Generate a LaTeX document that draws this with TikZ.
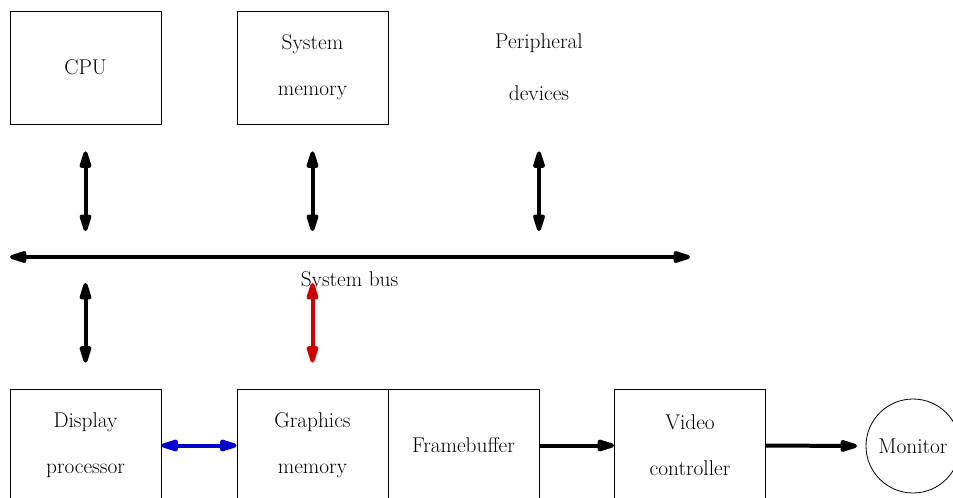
\documentclass[tikz,border=0pt]{standalone}
\usepackage{fontspec}
\usepackage{xcolor}
\usepackage{tikz}
\usetikzlibrary{arrows.meta,calc,positioning,shapes.geometric}
\definecolor{linkred}{RGB}{204,0,0}
\definecolor{linkblue}{RGB}{0,0,204}
\tikzset{
  unit/.style={draw, line width=0.6pt, minimum width=113.25pt, minimum height=84.75pt, inner sep=0pt, align=center, font=\fontsize{16}{34.5}\selectfont},
  bare/.style={unit, draw=none},
  disk/.style={draw, circle, line width=0.6pt, minimum size=70.5pt, inner sep=0pt, outer sep=6.75pt, font=\fontsize{16}{19}\selectfont},
  tag/.style={inner sep=0pt, font=\fontsize{16}{19}\selectfont},
  link/.style={{Triangle[round,length=16.5pt,width=9pt]}-{Triangle[round,length=16.5pt,width=9pt]}, line width=3pt},
  flow/.style={-{Triangle[round,length=16.5pt,width=9pt]}, line width=3pt}
}

\begin{document}
\begin{tikzpicture}[x=0.75pt,y=-0.75pt]
  \useasboundingbox (0,0) rectangle (953,497);

  \node[unit] (cpu) at (85.5,67.5) {CPU};
  \node[unit] (sysmem) at (312.5,67.5) {System\\memory};
  \node[bare, font=\fontsize{16}{39}\selectfont] (periph) at (539,67.5) {Peripheral\\devices};

  \coordinate (busL) at (10,257);
  \coordinate (busR) at (690,257);
  \node[tag] (buslabel) at (349.5,281) {System bus};

  \node[unit] (dproc) at (85.5,445.5) {Display\\processor};
  \node[unit] (gmem) at (312.5,445.5) {Graphics\\memory};
  \node[unit] (fbuf) at (463.5,445.5) {Framebuffer};
  \node[unit] (vctrl) at (690,445.5) {Video\\controller};
  \node[disk] (monitor) at (913,446) {Monitor};

  \draw[link] (busL) -- (busR);
  \draw[link, shorten <=20.25pt, shorten >=19.5pt] (cpu.south) -- (cpu.south |- busL);
  \draw[link, shorten <=20.25pt, shorten >=19.5pt] (sysmem.south) -- (sysmem.south |- busL);
  \draw[link, shorten <=20.25pt, shorten >=19.5pt] (periph.south) -- (periph.south |- busL);
  \draw[link, shorten <=19.5pt, shorten >=19.5pt] (dproc.north |- busL) -- (dproc.north);
  \draw[link, linkred, shorten <=19.5pt, shorten >=19.5pt] (gmem.north |- busL) -- (gmem.north);

  \draw[link, linkblue] (dproc.east) -- (gmem.west);
  \draw[flow] (fbuf.east) -- (vctrl.west);
  \draw[flow] (vctrl.east) -- (monitor.west);
\end{tikzpicture}
\end{document}
